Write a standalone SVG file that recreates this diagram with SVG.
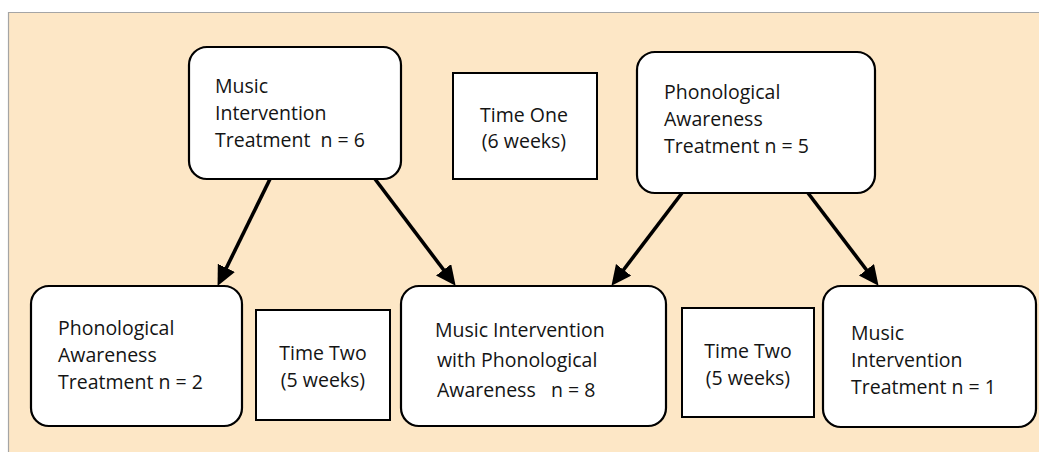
<svg xmlns="http://www.w3.org/2000/svg" width="1039" height="452" viewBox="0 0 1039 452">
<style>
.bg{fill:#FDE7C6}
.border{stroke:#A5A5A5;stroke-width:1.2;fill:none}
.node{fill:#FFFFFF;stroke:#000;stroke-width:2.2}
.time{fill:#FFFFFF;stroke:#000;stroke-width:2}
text{font-family:"Open Sans","Noto Sans",sans-serif;font-size:19.5px;fill:#141414;white-space:pre}
.c{text-anchor:middle}
.edge{stroke:#000;stroke-width:3.6;fill:none;marker-end:url(#ah)}
</style>
<defs>
<marker id="ah" markerUnits="userSpaceOnUse" markerWidth="22" markerHeight="20" refX="9" refY="9.5" orient="auto" viewBox="0 0 22 20">
<path d="M0,0 L20,9.5 L0,19 z" fill="#000"/>
</marker>
</defs>
<rect class="bg" x="8" y="12" width="1031" height="440"/>
<path class="border" d="M8.5,452 L8.5,12.5 L1039,12.5"/>

<g id="connectors">
<line class="edge" x1="270" y1="179" x2="222.4" y2="276"/>
<line class="edge" x1="375" y1="179" x2="449" y2="277"/>
<line class="edge" x1="682" y1="193" x2="618.1" y2="277"/>
<line class="edge" x1="808" y1="193" x2="871.9" y2="277"/>
</g>

<g id="music-top">
<rect class="node" x="189" y="47" width="212" height="132" rx="18"/>
<text x="215" y="93">Music</text>
<text x="215" y="120">Intervention</text>
<text x="215" y="147" xml:space="preserve">Treatment  n = 6</text>
</g>

<g id="time-one">
<rect class="time" x="453" y="73" width="144" height="106"/>
<text class="c" x="524" y="122">Time One</text>
<text class="c" x="524" y="148">(6 weeks)</text>
</g>

<g id="phono-top">
<rect class="node" x="637" y="52" width="238" height="141" rx="18"/>
<text x="664" y="99">Phonological</text>
<text x="664" y="126">Awareness</text>
<text x="664" y="153">Treatment n = 5</text>
</g>

<g id="phono-bottom">
<rect class="node" x="31" y="286" width="211" height="140" rx="18"/>
<text x="58" y="335">Phonological</text>
<text x="58" y="362">Awareness</text>
<text x="58" y="389">Treatment n = 2</text>
</g>

<g id="time-two-left">
<rect class="time" x="256" y="310" width="134" height="110"/>
<text class="c" x="323" y="360">Time Two</text>
<text class="c" x="323" y="387">(5 weeks)</text>
</g>

<g id="combined">
<rect class="node" x="401" y="286" width="265" height="140" rx="18"/>
<text x="435" y="337">Music Intervention</text>
<text x="437" y="367">with Phonological</text>
<text x="437" y="397" xml:space="preserve">Awareness   n = 8</text>
</g>

<g id="time-two-right">
<rect class="time" x="682" y="308" width="132" height="109"/>
<text class="c" x="748" y="358">Time Two</text>
<text class="c" x="748" y="385">(5 weeks)</text>
</g>

<g id="music-bottom">
<rect class="node" x="823" y="286" width="213" height="141" rx="18"/>
<text x="851" y="340">Music</text>
<text x="851" y="367">Intervention</text>
<text x="851" y="394">Treatment n = 1</text>
</g>
</svg>
